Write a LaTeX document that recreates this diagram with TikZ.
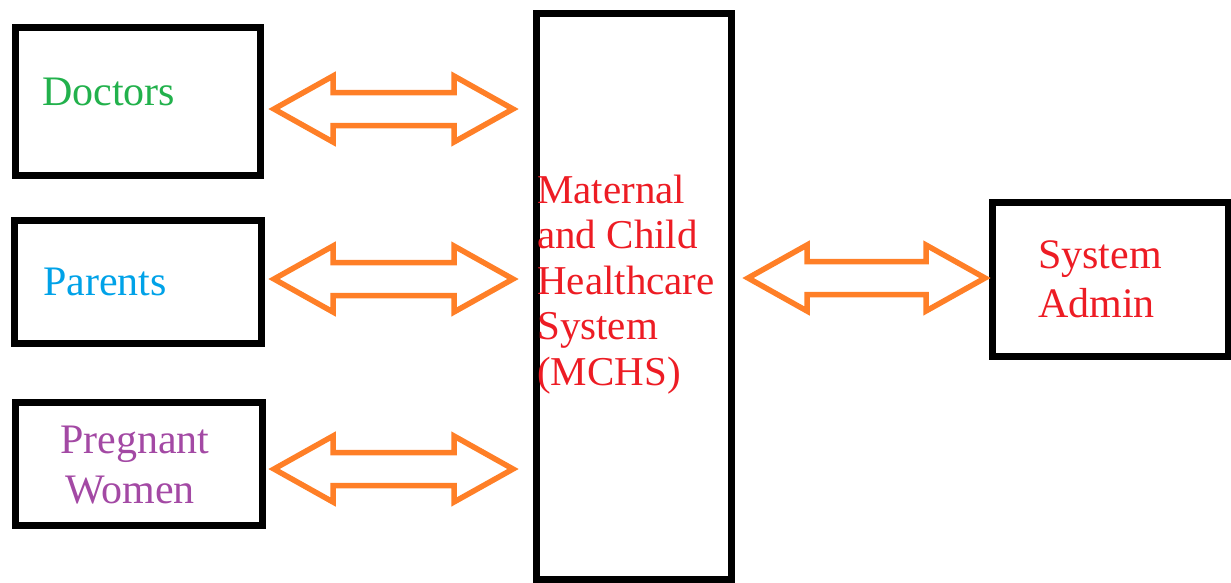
\documentclass[tikz,border=0pt]{standalone}
\usepackage{fontspec}
\setmainfont{Liberation Serif}
\definecolor{docgreen}{RGB}{34,177,76}
\definecolor{parblue}{RGB}{0,162,232}
\definecolor{pregpurple}{RGB}{163,73,164}
\definecolor{sysred}{RGB}{237,28,36}
\definecolor{arroworange}{RGB}{255,127,39}
\tikzset{
  box/.style={draw=black, line width=7pt, rectangle, inner sep=0pt},
  lbl/.style={anchor=base west, inner sep=0pt, font=\fontsize{42}{50}\selectfont},
  mlbl/.style={anchor=base west, inner sep=0pt, font=\fontsize{41}{45}\selectfont, text=sysred},
  arrowline/.style={draw=arroworange, line width=5.5pt, line join=miter},
  pics/dblarrow/.style={code={
    \draw[arrowline] (0,0) -- (59,-33) -- (59,-16.5) -- (#1-59,-16.5) -- (#1-59,-33)
      -- (#1,0) -- (#1-59,33) -- (#1-59,16.5) -- (59,16.5) -- (59,33) -- cycle;
  }}
}
\begin{document}
\begin{tikzpicture}[x=1pt,y=-1pt]
\useasboundingbox (0,0) rectangle (1231,582);
% boxes
\node[box, minimum width=245.5pt, minimum height=148pt] (doc) at (137.75,101.3) {};
\node[box, minimum width=247pt, minimum height=123pt] (par) at (137.5,281.5) {};
\node[box, minimum width=247pt, minimum height=123.5pt] (preg) at (139,464) {};
\node[box, minimum width=195.5pt, minimum height=565.5pt] (mchs) at (633.75,296.25) {};
\node[box, minimum width=235.5pt, minimum height=154.3pt] (adm) at (1110.25,279.2) {};
% labels
\node[lbl, text=docgreen] (tdoc) at (42,105) {Doctors};
\node[lbl, text=parblue] (tpar) at (43,295) {Parents};
\node[lbl, text=pregpurple] (tpreg1) at (60,453) {Pregnant};
\node[lbl, text=pregpurple] (tpreg2) at (65,503) {Women};
\node[mlbl] (tm1) at (537,203) {Maternal};
\node[mlbl] (tm2) at (537,248.5) {and Child};
\node[mlbl] (tm3) at (537,294) {Healthcare};
\node[mlbl] (tm4) at (537,339.5) {System};
\node[mlbl] (tm5) at (537,385) {(MCHS)};
\node[lbl, text=sysred] (tadm1) at (1038,268) {System};
\node[lbl, text=sysred] (tadm2) at (1038,317) {Admin};
% double arrows
\coordinate (a1) at (274,109);
\coordinate (a2) at (274,279);
\coordinate (a3) at (274,469);
\coordinate (a4) at (748,278);
\pic at (a1) {dblarrow=239};
\pic at (a2) {dblarrow=239};
\pic at (a3) {dblarrow=239};
\pic at (a4) {dblarrow=237};
\end{tikzpicture}
\end{document}
